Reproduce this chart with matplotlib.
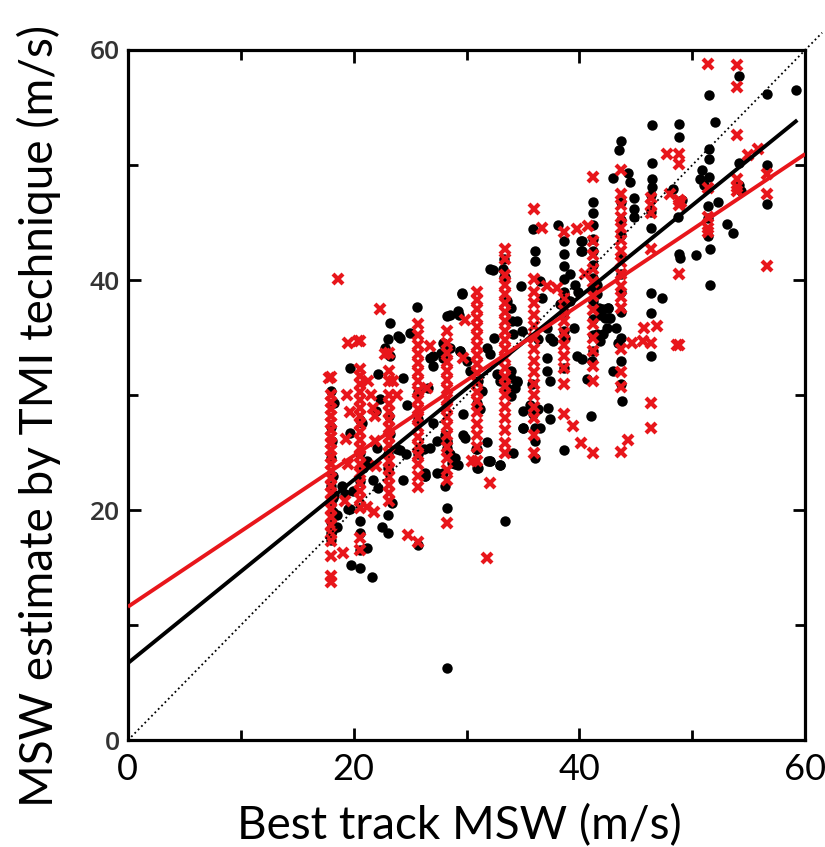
import matplotlib
matplotlib.use("Agg")
import matplotlib.pyplot as plt
from matplotlib.ticker import MultipleLocator

# best-track columns (m/s) and TMI estimates (red x)
red_cols = {
    18.0: [13.8, 14.3, 16.0, 17.3, 18.0, 18.7, 19.4, 20.1, 20.8, 21.5, 22.1, 22.8, 23.4, 24.0,
           24.6, 25.2, 25.8, 26.4, 27.0, 27.6, 28.2, 28.8, 29.4, 30.0, 31.6],
    20.6: [16.5, 17.6, 20.2, 21.0, 21.7, 22.4, 23.2, 24.0, 24.7, 25.4, 26.1, 26.8, 27.5, 28.2,
           28.9, 29.6, 30.3, 31.0, 31.7, 32.3, 34.7],
    23.1: [20.8, 21.5, 22.2, 22.9, 23.6, 24.3, 25.0, 25.7, 26.4, 27.1, 27.8, 28.5, 29.2, 30.0,
           31.2, 32.1, 33.7],
    25.7: [17.2, 22.0, 23.0, 24.0, 24.8, 25.6, 26.4, 27.2, 28.0, 28.8, 29.6, 30.4, 31.2, 32.0,
           32.8, 33.6, 34.4, 35.2, 36.2],
    28.3: [18.9, 22.6, 23.5, 24.5, 25.5, 26.5, 27.3, 28.1, 28.9, 29.7, 30.5, 31.3, 32.1, 32.9,
           33.7, 34.5, 35.6],
    30.9: [24.3, 25.5, 26.5, 27.5, 28.5, 29.5, 30.3, 31.1, 31.9, 32.7, 33.5, 34.3, 35.1, 35.9,
           36.7, 37.5, 38.3, 39.0],
    33.4: [25.0, 25.8, 27.0, 28.0, 29.0, 30.0, 30.8, 31.6, 32.4, 33.2, 34.0, 34.8, 35.6, 36.4,
           37.2, 38.0, 38.8, 39.6, 40.4, 41.8, 42.7],
    36.0: [25.0, 26.5, 28.0, 29.0, 30.0, 31.0, 32.0, 33.0, 34.0, 35.0, 36.0, 37.0, 38.0, 39.0,
           40.1, 46.2],
    38.6: [28.4, 31.0, 32.4, 33.4, 34.4, 35.4, 36.4, 37.4, 38.4, 44.2],
    41.2: [25.0, 31.2, 32.5, 33.8, 35.0, 36.2, 37.4, 38.6, 39.8, 41.0, 42.2, 43.4, 49.0],
    43.7: [25.1, 30.7, 32.0, 34.0, 37.6, 38.5, 39.5, 40.5, 41.6, 42.5, 43.5, 44.5, 45.5, 46.5,
           47.5, 49.6],
    46.3: [27.1, 29.3, 34.5, 42.7, 45.8, 46.5, 47.1],
    48.8: [34.4, 40.5, 46.5, 47.0, 50.1, 51.0],
    51.4: [44.2, 44.5, 45.5, 48.0, 58.8],
    54.0: [47.7, 48.1, 48.8, 52.6, 56.8, 58.7],
    56.6: [41.2, 47.5, 49.2],
}
red_extra_x = [18.6, 19.5, 20.4, 22.3, 22.8, 19.1, 19.2, 21.2, 21.8, 24.8, 29.9, 29.7, 32.1,
               31.8, 30.5, 39.4, 40.1, 44.3, 45.7, 44.7, 45.6, 46.9, 39.8, 40.8, 37.1, 38.0,
               47.8, 54.9, 55.8, 48.0, 49.0, 19.4, 19.7, 21.5, 21.7, 21.9, 21.3, 23.5, 23.8,
               26.8, 26.5, 17.8, 48.6, 36.7, 40.5, 19.3, 19.5, 21.9, 22.0]
red_extra_y = [40.1, 34.5, 34.7, 37.5, 33.6, 16.3, 20.8, 20.3, 19.8, 17.8, 36.5, 33.2, 22.4,
               15.8, 24.3, 27.3, 25.8, 26.1, 35.8, 34.5, 34.7, 36.0, 44.4, 44.7, 39.5, 39.3,
               51.0, 50.9, 51.4, 47.5, 46.8, 30.0, 28.5, 30.0, 28.9, 28.2, 31.2, 31.2, 30.0,
               34.3, 30.6, 31.5, 34.4, 44.5, 40.5, 26.2, 24.0, 26.0, 23.8]

# black dots (second estimate)
black_x = [18.0, 18.1, 18.0, 18.2, 18.0, 18.3, 18.0, 18.2, 18.0, 18.1, 18.0, 18.3, 18.0,
           19.7, 22.2, 23.2, 23.0, 23.2, 22.8, 23.9, 20.6, 22.1, 21.7, 23.0, 23.0, 20.8, 21.2,
           18.2, 19.2, 19.9, 25.6, 25.0, 28.3, 29.3, 29.6, 27.9, 28.3, 27.7, 27.9, 26.8, 27.0,
           26.6, 24.7, 27.4, 28.1, 28.3, 29.7, 29.7, 22.3, 20.7, 19.7, 23.2, 23.8, 24.6, 26.2,
           26.3, 27.4, 28.7, 29.2,
           35.9, 36.1, 36.1, 38.1, 38.6, 38.6, 38.6, 38.6, 38.6, 38.6, 38.6, 40.1, 40.1,
           41.2, 41.2, 41.2, 41.2, 41.2, 41.2, 41.2, 41.2, 41.2, 41.2, 41.2, 41.2,
           39.2, 39.6, 39.9, 41.7, 42.5, 42.3, 41.6, 43.2, 43.4,
           43.7, 43.7, 43.7, 43.7, 43.7, 43.7, 43.7, 43.7, 43.7, 43.7, 43.0, 39.8, 40.2,
           38.6, 38.7, 38.6, 37.1, 37.4, 37.1, 37.4, 36.3, 35.8, 33.2, 33.4, 32.3, 29.6, 34.8,
           33.6, 33.9, 34.0, 34.5, 34.9, 34.1, 32.4, 31.8, 32.1, 28.5, 29.2, 28.5, 29.4,
           32.7, 33.2, 33.9, 34.5, 33.6, 37.1, 38.7, 39.2, 38.3, 36.5, 36.7,
           24.1, 27.0, 29.4, 30.0, 30.3, 31.0, 31.4, 30.9, 31.2, 30.8, 31.0, 31.9, 33.0, 31.8,
           28.3, 28.3, 28.5, 28.1, 28.3, 33.4, 27.0, 26.8, 25.7, 26.3, 24.1, 24.4,
           33.0, 33.9, 34.5, 33.9, 34.3, 35.0, 35.6, 36.3, 35.9, 35.0, 36.1, 36.5, 36.1, 36.1,
           37.2, 37.4, 38.6, 41.0, 37.7, 40.7, 41.1, 39.5, 41.6, 41.6, 41.8, 42.5, 42.7, 41.8,
           42.1, 43.8, 32.1, 30.9, 30.9, 29.9, 29.0, 29.0, 35.0, 34.1, 33.0, 32.1,
           28.3, 25.7, 18.5, 18.0, 18.5, 19.5, 19.8, 20.6, 21.6, 20.6, 20.6, 21.2, 20.6, 22.5,
           23.0, 23.0, 23.4, 19.0, 19.7, 22.2, 27.9, 26.3,
           46.4, 48.8, 48.8, 52.0, 43.7, 43.5, 46.4, 51.5, 51.5, 54.1, 56.6, 43.0, 44.3,
           46.4, 46.4, 50.9, 51.5, 50.7, 51.0, 54.1, 54.3, 56.6, 54.1, 51.5, 56.6, 59.2,
           33.3, 32.1, 33.3, 44.8, 44.8, 44.8, 46.3, 46.3, 46.3, 48.7, 48.8, 48.9, 50.3,
           51.4, 51.4, 51.4, 51.6, 51.6, 52.3, 53.1, 53.6, 47.3, 46.3, 46.3, 46.3, 42.6, 42.1,
           42.4, 40.2, 40.2, 44.5, 48.3, 49.1,
           20.6, 20.6, 23.1, 25.7, 25.7, 24.4, 22.0]
black_y = [17.4, 18.2, 19.0, 19.8, 20.5, 21.3, 22.1, 23.0, 24.5, 26.0, 27.2, 29.3, 30.4,
           32.4, 31.8, 36.3, 34.9, 33.4, 34.1, 35.1, 27.8, 25.4, 22.6, 24.9, 23.7, 23.7, 24.3,
           21.1, 21.4, 21.7, 37.7, 35.4, 36.9, 37.0, 38.8, 34.5, 34.0, 33.7, 33.2, 33.2, 32.5,
           30.6, 29.1, 26.0, 26.5, 25.8, 26.5, 28.4, 29.7, 27.6, 26.7, 26.6, 25.3, 24.9, 25.3,
           23.2, 23.2, 24.1, 23.9,
           44.4, 42.5, 41.7, 44.8, 43.4, 42.3, 41.2, 40.1, 39.0, 38.0, 37.2, 43.4, 42.5,
           46.8, 45.8, 44.8, 43.6, 42.5, 41.3, 40.2, 39.2, 38.2, 36.6, 35.2, 33.8,
           40.5, 39.6, 39.0, 37.6, 37.6, 36.7, 35.3, 35.8, 34.5,
           46.8, 45.2, 43.9, 42.0, 40.5, 39.0, 37.2, 35.0, 33.0, 31.0, 32.1, 33.4, 33.1,
           35.6, 35.0, 32.4, 35.8, 35.0, 32.1, 31.2, 34.9, 31.0, 41.0, 40.3, 40.9, 38.9, 39.5,
           38.2, 37.6, 36.4, 36.4, 35.6, 35.3, 35.0, 34.1, 33.6, 37.0, 37.3, 34.1, 33.8,
           31.8, 31.2, 31.5, 31.1, 30.6, 33.2, 38.4, 38.2, 37.9, 39.9, 38.4,
           35.0, 33.4, 33.8, 33.0, 32.1, 31.2, 30.4, 29.3, 28.8, 25.3, 23.7, 24.3, 23.9, 25.9,
           26.0, 25.4, 24.9, 22.1, 20.2, 19.1, 27.6, 25.4, 24.9, 23.0, 25.2, 22.6,
           31.2, 32.1, 31.2, 29.9, 30.6, 28.6, 29.1, 28.8, 28.4, 27.1, 27.1, 27.1, 26.0, 24.5,
           28.9, 27.9, 25.2, 28.2, 34.7, 31.4, 33.0, 35.8, 39.6, 38.8, 37.0, 37.6, 36.7, 34.7,
           35.3, 29.5, 24.3, 25.3, 23.7, 26.3, 24.5, 24.0, 27.1, 25.0, 23.9, 24.3,
           6.3, 17.0, 18.5, 18.0, 19.6, 20.1, 15.2, 15.0, 14.2, 18.0, 16.5, 16.7, 19.1, 18.5,
           18.0, 19.6, 20.6, 22.1, 20.1, 21.9, 23.2, 23.0,
           53.5, 53.6, 52.4, 53.7, 52.1, 51.3, 50.2, 51.4, 50.5, 50.2, 50.0, 48.9, 49.3,
           48.8, 48.1, 49.6, 49.0, 48.8, 48.3, 48.3, 47.7, 46.6, 57.7, 56.1, 56.2, 56.5,
           41.8, 41.0, 40.3, 47.1, 46.2, 45.5, 47.4, 45.9, 44.5, 45.5, 42.3, 41.9, 42.2,
           46.4, 45.4, 43.8, 42.7, 39.6, 46.8, 44.9, 44.1, 38.4, 38.9, 37.1, 33.4, 36.7, 37.5,
           35.8, 43.4, 42.5, 48.5, 47.9, 47.0,
           22.5, 25.0, 28.2, 27.9, 30.3, 31.5, 28.6]

# regression lines: intercept, slope, x range
black_fit = (6.7, 0.796, 59.3)
red_fit = (11.6, 0.656, 60.0)

red_x, red_y = [], []
for bx, ys in red_cols.items():
    red_x += [bx] * len(ys)
    red_y += ys
red_x += red_extra_x
red_y += red_extra_y

RED = '#e8161b'

fig = plt.figure(figsize=(8.25, 8.47), dpi=100)
ax = fig.add_axes([0.155, 0.126, 0.821, 0.815])

ax.plot(black_x, black_y, 'o', color='black', ms=7.5, mew=0, zorder=2)
ax.plot(red_x, red_y, 'x', color=RED, ms=7.5, mew=3.0, zorder=3)

ax.plot([0, 61.5], [0, 61.5], ':', color='black', lw=1.3, clip_on=False, zorder=4)
for (a, b, xe), c in [(black_fit, 'black'), (red_fit, RED)]:
    ax.plot([0, xe], [a, a + b * xe], '-', color=c, lw=2.8, zorder=5, solid_capstyle='butt')

ax.set_xlim(0, 60)
ax.set_ylim(0, 60)
ax.xaxis.set_major_locator(MultipleLocator(20))
ax.yaxis.set_major_locator(MultipleLocator(20))
ax.xaxis.set_minor_locator(MultipleLocator(10))
ax.yaxis.set_minor_locator(MultipleLocator(10))
ax.tick_params(which='both', direction='in', top=True, right=True, width=2)
ax.tick_params(which='major', length=9)
ax.tick_params(which='minor', length=7)
ax.tick_params(axis='x', pad=9)
ax.tick_params(axis='y', pad=6)
for s in ax.spines.values():
    s.set_linewidth(2.3)

narrow = ['Lato', 'DejaVu Sans']
for lab in ax.get_xticklabels():
    lab.set_family(narrow)
    lab.set_fontsize(26)
for lab in ax.get_yticklabels():
    lab.set_family(['Open Sans', 'DejaVu Sans'])
    lab.set_fontsize(19)
    lab.set_color('#333333')
    lab.set_fontweight('semibold')

ax.set_xlabel('Best track MSW (m/s)', family=narrow, fontsize=33)
ax.set_ylabel('MSW estimate by TMI technique (m/s)', family=narrow, fontsize=33)
ax.xaxis.set_label_coords(0.49, -0.092)
ax.yaxis.set_label_coords(-0.098, 0.47)

fig.savefig('out.png', dpi=100)
